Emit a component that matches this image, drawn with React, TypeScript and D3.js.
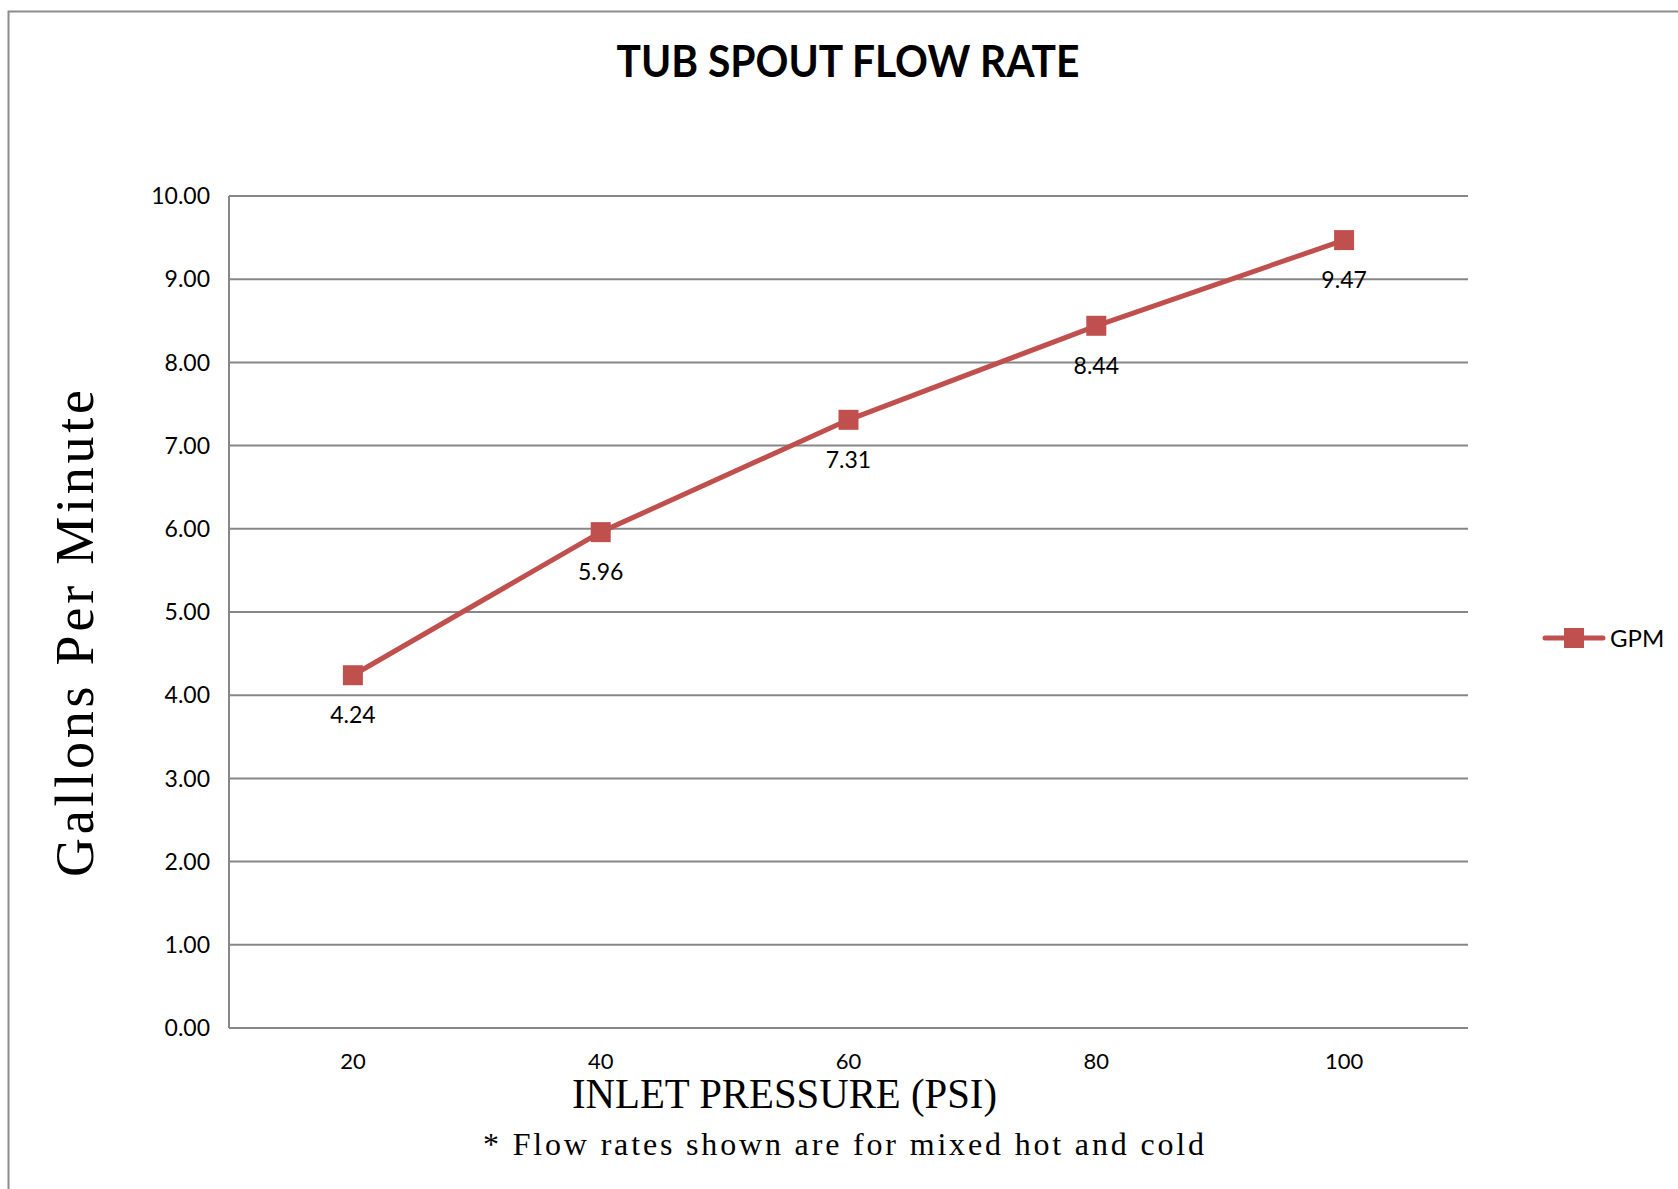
import React from "react";
import { scaleBand, scaleLinear, line, range, format } from "d3";

// data
const pressures = ["20", "40", "60", "80", "100"];
const gpm = [4.24, 5.96, 7.31, 8.44, 9.47];
const seriesName = "GPM";
const chartTitle = "TUB SPOUT FLOW RATE";
const xTitle = "INLET PRESSURE (PSI)";
const yTitle = "Gallons Per Minute";
const footNote = "* Flow rates shown are for mixed hot and cold";
const yTickValues = range(0, 11, 1);

const WIDTH = 1678;
const HEIGHT = 1189;
const margin = { left: 229, right: 1468, top: 196, bottom: 1028 };

const RED = "#C0504D";
const GRID = "#878787";
const SANS = "Lato, 'Open Sans', sans-serif";
const SERIF = "'Liberation Serif', 'DejaVu Serif', serif";

function App() {
  const xScale = scaleBand<string>()
    .domain(pressures)
    .range([margin.left, margin.right])
    .padding(0);
  const yScale = scaleLinear().domain([0, 10]).range([margin.bottom, margin.top]);
  const cx = (p: string) => (xScale(p) as number) + xScale.bandwidth() / 2;

  const points = pressures.map((p, i) => ({ p, v: gpm[i] }));
  const lineGen = line<{ p: string; v: number }>()
    .x((d) => cx(d.p))
    .y((d) => yScale(d.v));

  const fmt = format(".2f");

  return (
    <div style={{ position: "absolute", left: 0, top: 0 }}>
      <svg width={WIDTH} height={HEIGHT} style={{ display: "block", background: "#fff" }}>
        {/* outer frame (left + top visible) */}
        <path d={`M8.5,${HEIGHT} V11.5 H${WIDTH}`} fill="none" stroke="#8c8c8c" strokeWidth={2} />

        <text
          x={848}
          y={77}
          textAnchor="middle"
          fontFamily={SANS}
          fontWeight={700}
          fontSize={44}
          textLength={463}
          lengthAdjust="spacingAndGlyphs"
        >
          {chartTitle}
        </text>

        {/* gridlines + y ticks */}
        {yTickValues.map((t) => (
          <g key={t}>
            <line
              x1={margin.left}
              x2={margin.right}
              y1={yScale(t)}
              y2={yScale(t)}
              stroke={GRID}
              strokeWidth={2}
            />
            <text
              x={210}
              y={yScale(t)}
              dy="0.36em"
              textAnchor="end"
              fontFamily={SANS}
              fontSize={23}
              fill="#000"
            >
              {fmt(t)}
            </text>
          </g>
        ))}
        <line
          x1={margin.left}
          x2={margin.left}
          y1={margin.top}
          y2={margin.bottom}
          stroke={GRID}
          strokeWidth={2}
        />

        {/* x ticks */}
        {pressures.map((p) => (
          <text key={p} x={cx(p)} y={1069} textAnchor="middle" fontFamily={SANS} fontSize={22}>
            {p}
          </text>
        ))}

        {/* series */}
        <path d={lineGen(points) || ""} fill="none" stroke={RED} strokeWidth={5} strokeLinejoin="round" />
        {points.map((d) => (
          <g key={d.p}>
            <rect x={cx(d.p) - 10} y={yScale(d.v) - 10} width={20} height={20} fill={RED} />
            <text
              x={cx(d.p)}
              y={yScale(d.v) + 48}
              textAnchor="middle"
              fontFamily={SANS}
              fontSize={23}
            >
              {fmt(d.v)}
            </text>
          </g>
        ))}

        {/* legend */}
        <line x1={1545} x2={1603} y1={638} y2={638} stroke={RED} strokeWidth={5} strokeLinecap="round" />
        <rect x={1564} y={628} width={20} height={20} fill={RED} />
        <text x={1610} y={647} fontFamily={SANS} fontSize={24}>
          {seriesName}
        </text>

        {/* axis titles */}
        <text
          x={572}
          y={1108}
          fontFamily={SERIF}
          fontSize={42}
          textLength={425}
          lengthAdjust="spacingAndGlyphs"
        >
          {xTitle}
        </text>
        <text
          x={483}
          y={1155}
          fontFamily={SERIF}
          fontSize={32}
          textLength={721}
          lengthAdjust="spacing"
        >
          {footNote}
        </text>
        <text
          transform={`translate(93,877) rotate(-90)`}
          fontFamily={SERIF}
          fontSize={54}
          textLength={487}
          lengthAdjust="spacing"
        >
          {yTitle}
        </text>
      </svg>
    </div>
  );
}

export default App;
